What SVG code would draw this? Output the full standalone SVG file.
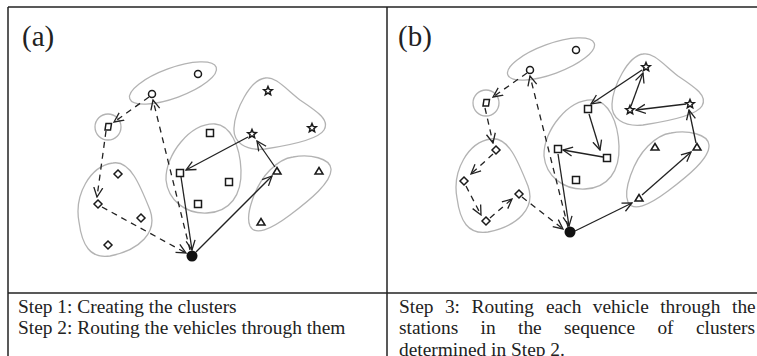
<svg xmlns="http://www.w3.org/2000/svg" xmlns:xlink="http://www.w3.org/1999/xlink" width="757" height="356" viewBox="0 0 757 356">
<style>
.frame{stroke:#222;stroke-width:1.5;fill:none}
.cl{fill:none;stroke:#b3b3b3;stroke-width:1.3}
.nd{fill:#fff;stroke:#1a1a1a;stroke-width:1.5}
.dep{fill:#111}
.cs{fill:none;stroke:#222;stroke-width:1.3;marker-end:url(#ah)}
.cd{fill:none;stroke:#222;stroke-width:1.3;stroke-dasharray:6 5;marker-end:url(#ah)}
.lbl{font-family:"Liberation Serif","Times New Roman",serif;font-size:29px;fill:#222}
.txt{font-family:"Liberation Serif","Times New Roman",serif;font-size:19.4px;fill:#222}
</style>
<defs>
<marker id="ah" markerWidth="11" markerHeight="11" refX="10" refY="5" orient="auto" markerUnits="userSpaceOnUse" viewBox="0 0 11 10">
<path d="M0.5,0.5 L10,5 L0.5,9.5" fill="none" stroke="#222" stroke-width="1.3"/>
</marker>
<path id="sq" d="M-3.5,-3.5 H3.5 V3.5 H-3.5 Z"/>
<path id="di" d="M0,-4 L4,0 L0,4 L-4,0 Z"/>
<path id="tr" d="M0,-3.5 L4,3 L-4,3 Z"/>
<path id="st" d="M0,-4.5 L1.18,-1.62 L4.28,-1.39 L1.9,0.62 L2.65,3.64 L0,2 L-2.65,3.64 L-1.9,0.62 L-4.28,-1.39 L-1.18,-1.62 Z"/>
<circle id="ci" r="3.5"/>
<path id="pp" d="M-2,-3.5 L3.5,-3.5 L2.5,3 L-3,3 Z"/>
</defs>

<g id="frame">
<line class="frame" x1="8" y1="7" x2="757" y2="7"/>
<line class="frame" x1="8" y1="7" x2="8" y2="356"/>
<line class="frame" x1="387" y1="7" x2="387" y2="356"/>
<line class="frame" x1="8" y1="293" x2="757" y2="293"/>
</g>

<text class="lbl" x="22" y="46">(a)</text>
<text class="lbl" x="398" y="46">(b)</text>

<g id="clusters-a">
<ellipse class="cl" cx="173" cy="83" rx="46" ry="15" transform="rotate(-20 173 83)"/>
<circle class="cl" cx="108" cy="127" r="13"/>
<path class="cl" d="M113,163 C130,160 140,185 150,210 C158,232 140,250 110,256 C90,259 82,245 79,222 C74,195 90,166 113,163 Z"/>
<path class="cl" d="M215,124 C230,125 240,145 241,170 C242,195 230,212 207,213 C185,214 168,200 166,180 C165,155 190,123 215,124 Z"/>
<path class="cl" d="M265,78 C275,76 285,88 300,100 C318,112 330,120 324,130 C318,140 285,146 265,149 C245,151 233,142 234,128 C235,110 250,80 265,78 Z"/>
<path class="cl" d="M293,157 C310,154 330,158 331,169 C332,182 310,200 290,215 C270,230 255,236 250,226 C245,215 255,185 270,170 C278,162 285,158 293,157 Z"/>
</g>
<g id="clusters-b" transform="translate(378,-24)">
<ellipse class="cl" cx="173" cy="83" rx="46" ry="15" transform="rotate(-20 173 83)"/>
<circle class="cl" cx="108" cy="127" r="13"/>
<path class="cl" d="M113,163 C130,160 140,185 150,210 C158,232 140,250 110,256 C90,259 82,245 79,222 C74,195 90,166 113,163 Z"/>
<path class="cl" d="M215,124 C230,125 240,145 241,170 C242,195 230,212 207,213 C185,214 168,200 166,180 C165,155 190,123 215,124 Z"/>
<path class="cl" d="M265,78 C275,76 285,88 300,100 C318,112 330,120 324,130 C318,140 285,146 265,149 C245,151 233,142 234,128 C235,110 250,80 265,78 Z"/>
<path class="cl" d="M293,157 C310,154 330,158 331,169 C332,182 310,200 290,215 C270,230 255,236 250,226 C245,215 255,185 270,170 C278,162 285,158 293,157 Z"/>
</g>

<g id="connectors">
<path class="cd" d="M149,97 L114,122"/>
<path class="cd" d="M106,131 L97,197"/>
<path class="cd" d="M102,207 L186,253"/>
<path class="cd" d="M190,250 L153,100"/>
<path class="cs" d="M196,252 L272,176"/>
<path class="cs" d="M275,167 L257,141"/>
<path class="cs" d="M248,137 L186,170"/>
<path class="cs" d="M181,177 L192,250"/>

<path class="cd" d="M527,73 L493,97"/>
<path class="cd" d="M485,108 L493,143"/>
<path class="cd" d="M493,154 L471,174"/>
<path class="cd" d="M466,186 L481,215"/>
<path class="cd" d="M490,218 L512,199"/>
<path class="cd" d="M522,197 L563,229"/>
<path class="cd" d="M568,227 L530,76"/>
<path class="cs" d="M575,231 L632,203"/>
<path class="cs" d="M642,195 L691,152"/>
<path class="cs" d="M696,143 L689,110"/>
<path class="cs" d="M686,104 L636,110"/>
<path class="cs" d="M631,106 L643,73"/>
<path class="cs" d="M642,70 L591,104"/>
<path class="cs" d="M589,114 L600,150"/>
<path class="cs" d="M603,157 L563,150"/>
<path class="cs" d="M558,154 L569,226"/>
</g>

<g id="a-c1"><use href="#ci" class="nd" x="198" y="74"/></g>
<g id="a-c2"><use href="#ci" class="nd" x="152" y="94"/></g>
<g id="a-p1"><use href="#pp" class="nd" x="108" y="127"/></g>
<g id="a-d1"><use href="#di" class="nd" x="118" y="174"/></g>
<g id="a-d2"><use href="#di" class="nd" x="98" y="204"/></g>
<g id="a-d3"><use href="#di" class="nd" x="141" y="218"/></g>
<g id="a-d4"><use href="#di" class="nd" x="108" y="245"/></g>
<g id="a-s1"><use href="#sq" class="nd" x="210" y="133"/></g>
<g id="a-s2"><use href="#sq" class="nd" x="180" y="173"/></g>
<g id="a-s3"><use href="#sq" class="nd" x="229" y="182"/></g>
<g id="a-s4"><use href="#sq" class="nd" x="198" y="204"/></g>
<g id="a-t1"><use href="#st" class="nd" x="268" y="91"/></g>
<g id="a-t2"><use href="#st" class="nd" x="312" y="128"/></g>
<g id="a-t3"><use href="#st" class="nd" x="252" y="134"/></g>
<g id="a-r1"><use href="#tr" class="nd" x="277" y="171"/></g>
<g id="a-r2"><use href="#tr" class="nd" x="319" y="171"/></g>
<g id="a-r3"><use href="#tr" class="nd" x="261" y="222"/></g>
<g id="a-depot"><circle class="dep" cx="192" cy="256" r="5.5"/></g>

<g id="b-c1"><use href="#ci" class="nd" x="576" y="50"/></g>
<g id="b-c2"><use href="#ci" class="nd" x="530" y="70"/></g>
<g id="b-p1"><use href="#pp" class="nd" x="486" y="103"/></g>
<g id="b-d1"><use href="#di" class="nd" x="496" y="150"/></g>
<g id="b-d2"><use href="#di" class="nd" x="464" y="181"/></g>
<g id="b-d3"><use href="#di" class="nd" x="519" y="194"/></g>
<g id="b-d4"><use href="#di" class="nd" x="486" y="221"/></g>
<g id="b-s1"><use href="#sq" class="nd" x="588" y="109"/></g>
<g id="b-s2"><use href="#sq" class="nd" x="558" y="149"/></g>
<g id="b-s3"><use href="#sq" class="nd" x="607" y="158"/></g>
<g id="b-s4"><use href="#sq" class="nd" x="576" y="180"/></g>
<g id="b-t1"><use href="#st" class="nd" x="646" y="67"/></g>
<g id="b-t2"><use href="#st" class="nd" x="690" y="104"/></g>
<g id="b-t3"><use href="#st" class="nd" x="630" y="110"/></g>
<g id="b-r1"><use href="#tr" class="nd" x="655" y="147"/></g>
<g id="b-r2"><use href="#tr" class="nd" x="697" y="147"/></g>
<g id="b-r3"><use href="#tr" class="nd" x="639" y="198"/></g>
<g id="b-depot"><circle class="dep" cx="570" cy="232" r="5.5"/></g>

<g id="caption-a">
<text class="txt" x="18" y="313">Step 1: Creating the clusters</text>
<text class="txt" x="18" y="334">Step 2: Routing the vehicles through them</text>
</g>
<g id="caption-b">
<text class="txt" y="313"><tspan x="399">Step</tspan><tspan x="444.9">3:</tspan><tspan x="471.5">Routing</tspan><tspan x="545.9">each</tspan><tspan x="592.8">vehicle</tspan><tspan x="660.2">through</tspan><tspan x="732">the</tspan></text>
<text class="txt" y="334"><tspan x="399">stations</tspan><tspan x="480.6">in</tspan><tspan x="518">the</tspan><tspan x="564">sequence</tspan><tspan x="657.4">of</tspan><tspan x="695.9">clusters</tspan></text>
<text class="txt" x="399" y="356">determined in Step 2.</text>
</g>
</svg>
